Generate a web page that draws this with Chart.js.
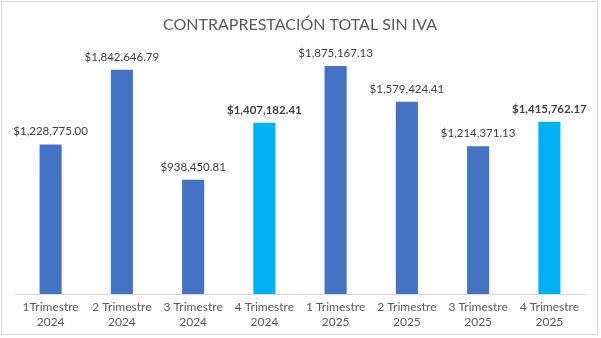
<!DOCTYPE html>
<html>
<head>
<meta charset="utf-8">
<script src="https://cdn.jsdelivr.net/npm/chart.js@4"></script>
<style>
  html, body { margin: 0; padding: 0; background: #fff; }
  #wrap { width: 601px; height: 338px; position: relative; }
</style>
</head>
<body>
<div id="wrap"><canvas id="c" width="601" height="338"></canvas></div>
<script>
// ── datos ──
const TITLE = 'CONTRAPRESTACIÓN TOTAL SIN IVA';
const categories = [
    ['1Trimestre', '2024'], ['2 Trimestre', '2024'], ['3 Trimestre', '2024'], ['4 Trimestre', '2024'],
    ['1 Trimestre', '2025'], ['2 Trimestre', '2025'], ['3 Trimestre', '2025'], ['4 Trimestre', '2025']
];
const values = [1228775.00, 1842646.79, 938450.81, 1407182.41, 1875167.13, 1579424.41, 1214371.13, 1415762.17];
const highlight = [false, false, false, true, false, false, false, true];

const BLUE = '#4472C4';
const CYAN = '#00B0F0';
const FONT = 'Lato, "Open Sans", sans-serif';

// ── helpers ──
function money(v) {
    return '$' + v.toLocaleString('en-US', { minimumFractionDigits: 2, maximumFractionDigits: 2 });
}

// etiquetas de valor sobre cada barra
const valueLabels = {
    id: 'valueLabels',
    afterDatasetsDraw(chart) {
        const ctx = chart.ctx;
        const meta = chart.getDatasetMeta(0);
        ctx.save();
        ctx.textAlign = 'center';
        ctx.textBaseline = 'bottom';
        meta.data.forEach((bar, i) => {
            ctx.font = (highlight[i] ? 'bold ' : '') + '11.5px ' + FONT;
            ctx.fillStyle = '#404040';
            ctx.fillText(money(values[i]), bar.x, bar.y - 7);
        });
        ctx.restore();
    }
};

// marco exterior del gráfico
const frame = {
    id: 'frame',
    beforeDraw(chart) {
        const ctx = chart.ctx;
        ctx.save();
        ctx.fillStyle = '#fff';
        ctx.fillRect(0, 0, chart.width, chart.height);
        ctx.strokeStyle = '#d9d9d9';
        ctx.lineWidth = 1;
        ctx.strokeRect(1.5, 1.5, 596, 333);
        ctx.restore();
    }
};

new Chart(document.getElementById('c'), {
    type: 'bar',
    data: {
        labels: categories,
        datasets: [{
            data: values,
            backgroundColor: highlight.map(h => h ? CYAN : BLUE),
            barPercentage: 0.31,
            categoryPercentage: 1.0
        }]
    },
    options: {
        responsive: false,
        animation: false,
        layout: { padding: { left: 15, right: 16, top: 12, bottom: 2 } },
        plugins: {
            legend: { display: false },
            tooltip: { enabled: false },
            title: {
                display: true,
                text: TITLE,
                color: '#595959',
                font: { family: FONT, size: 16, weight: 'normal', lineHeight: 1.2 },
                padding: { top: 3, bottom: 16.5 }
            }
        },
        scales: {
            y: { display: false, min: 0, max: 2000000 },
            x: {
                grid: { display: false, drawTicks: false },
                border: { display: true, color: '#d9d9d9' },
                ticks: {
                    color: '#595959',
                    font: { family: FONT, size: 12, lineHeight: 1.25 },
                    maxRotation: 0,
                    autoSkip: false,
                    padding: 6
                }
            }
        }
    },
    plugins: [frame, valueLabels]
});
</script>
</body>
</html>
